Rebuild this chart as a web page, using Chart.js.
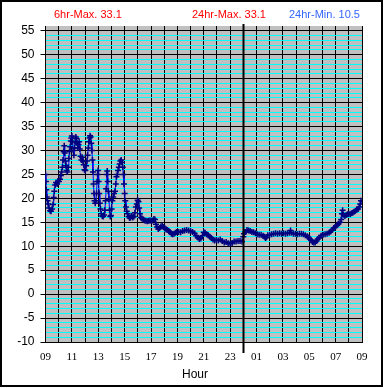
<!DOCTYPE html>
<html>
<head>
<meta charset="utf-8">
<script src="https://cdn.jsdelivr.net/npm/chart.js@4/dist/chart.umd.min.js"></script>
<style>
  body { margin: 0; background: #fff; }
  #wrap { position: relative; width: 385px; height: 388px; }
  #frame { position: absolute; left: 0; top: 0; width: 383px; height: 387px; box-sizing: border-box; border: 2px solid #000; pointer-events: none; }
  .hdr { position: absolute; top: 8px; font: 11px "Liberation Sans", Arial, sans-serif; line-height: 13px; white-space: nowrap; }
  #xtitle { position: absolute; left: 182px; top: 367px; font: 12px "Liberation Sans", Arial, sans-serif; line-height: 14px; }
</style>
</head>
<body>
<div id="wrap">
  <canvas id="tempChart" width="385" height="388"></canvas>
  <div class="hdr" style="left:54px;color:#ff0000">6hr-Max. 33.1</div>
  <div class="hdr" style="left:192px;color:#ff0000">24hr-Max. 33.1</div>
  <div class="hdr" style="left:289px;color:#3366ff">24hr-Min. 10.5</div>
  <div id="xtitle">Hour</div>
  <div id="frame"></div>
</div>
<script>
// hours since 09:00
let hours = [
  0.00, 0.03, 0.06, 0.10, 0.15, 0.20, 0.27, 0.35, 0.42, 0.50, 0.57, 0.62, 0.67, 0.73, 0.80, 0.88, 0.95,
  1.02, 1.10, 1.17, 1.22, 1.28, 1.33, 1.38, 1.42, 1.46, 1.50, 1.55, 1.60, 1.66, 1.72, 1.77, 1.82, 1.87, 1.92, 1.96,
  2.00, 2.05, 2.10, 2.15, 2.20, 2.25, 2.30, 2.35, 2.40, 2.45, 2.50, 2.55, 2.60, 2.66, 2.72, 2.78, 2.84, 2.90, 2.96,
  3.02, 3.08, 3.14, 3.19, 3.24, 3.29, 3.34, 3.38, 3.42, 3.47, 3.52, 3.56, 3.60, 3.64, 3.68, 3.72, 3.77, 3.82, 3.87, 3.91, 3.95, 3.99,
  4.03, 4.07, 4.12, 4.17, 4.23, 4.30, 4.37, 4.44, 4.50, 4.55, 4.60, 4.64, 4.68, 4.72, 4.76, 4.81, 4.86, 4.91, 4.96,
  5.01, 5.07, 5.13, 5.20, 5.27, 5.33, 5.38, 5.44, 5.50, 5.56, 5.62, 5.68, 5.74, 5.80, 5.86, 5.91, 5.95,
  6.00, 6.05, 6.10, 6.16, 6.23, 6.30, 6.38, 6.46, 6.54, 6.62, 6.70, 6.78, 6.85, 6.92, 6.99,
  7.05, 7.10, 7.16, 7.23, 7.32, 7.42, 7.52, 7.62, 7.72, 7.82, 7.92,
  8.02, 8.12, 8.22, 8.30, 8.38, 8.46, 8.55, 8.65, 8.75, 8.85, 8.95,
  9.05, 9.15, 9.25, 9.35, 9.45, 9.55, 9.65, 9.75, 9.85, 9.95,
  10.10, 10.25, 10.40, 10.55, 10.70, 10.85, 11.00, 11.15, 11.30, 11.42, 11.54, 11.66, 11.78, 11.90,
  12.00, 12.10, 12.22, 12.34, 12.46, 12.58, 12.70, 12.82, 12.95, 13.10, 13.25, 13.40, 13.55, 13.70, 13.85,
  14.00, 14.15, 14.30, 14.45, 14.60, 14.75, 14.90, 15.00, 15.05, 15.15, 15.28, 15.40, 15.52, 15.65, 15.78, 15.92,
  16.06, 16.20, 16.35, 16.50, 16.60, 16.68, 16.76, 16.85, 17.00, 17.15, 17.30, 17.45, 17.60, 17.75, 17.90,
  18.05, 18.20, 18.35, 18.50, 18.58, 18.65, 18.80, 18.95, 19.10, 19.25, 19.40, 19.55, 19.70, 19.85, 19.95,
  20.05, 20.15, 20.25, 20.35, 20.45, 20.55, 20.65, 20.75, 20.90, 21.05, 21.20, 21.35, 21.50, 21.62, 21.74, 21.86, 21.98,
  22.10, 22.22, 22.34, 22.42, 22.48, 22.53, 22.60, 22.70, 22.80, 22.90, 23.00, 23.10, 23.20, 23.30, 23.40, 23.50,
  23.60, 23.70, 23.78, 23.86, 23.92
];
let temps = [
  25.0, 23.5, 21.8, 20.3, 19.5, 18.8, 18.0, 17.4, 17.3, 17.8, 18.7, 20.2, 21.5, 22.8, 23.3, 23.0, 23.6,
  23.5, 24.0, 24.8, 25.5, 26.5, 28.0, 29.8, 31.0, 29.5, 27.8, 26.8, 25.8, 25.5, 26.5, 28.3, 29.8, 30.8, 32.0, 32.6,
  33.0, 31.8, 30.0, 29.0, 30.5, 31.8, 32.8, 32.5, 31.5, 30.5, 31.2, 31.8, 30.3, 28.8, 28.0, 28.6, 27.8, 27.0, 26.0,
  25.8, 26.8, 27.8, 29.0, 30.5, 31.8, 32.6, 33.1, 32.8, 31.5, 30.0, 28.0, 25.5, 23.0, 21.0, 19.5, 19.0, 19.5, 21.0, 23.5, 25.0, 25.8,
  23.5, 21.0, 19.0, 17.8, 16.8, 16.3, 16.2, 16.5, 17.5, 19.5, 22.0, 25.0, 25.7, 23.5, 21.5, 19.8, 17.5, 16.2, 16.4,
  17.8, 19.5, 20.3, 21.0, 21.5, 23.0, 24.5, 25.0, 25.8, 26.5, 27.2, 27.8, 28.0, 27.5, 26.5, 25.0, 23.0,
  21.0, 19.5, 18.2, 17.3, 16.8, 16.2, 15.9, 16.0, 16.3, 16.0, 16.2, 17.0, 18.2, 18.8, 19.6,
  19.3, 18.0, 16.8, 16.0, 15.8, 15.6, 15.4, 15.3, 15.2, 15.3, 15.4,
  15.3, 15.4, 15.7, 15.6, 14.6, 14.0, 13.6, 13.8, 14.1, 14.3, 14.0,
  13.7, 13.5, 13.4, 13.2, 12.9, 12.6, 12.5, 12.6, 12.8, 13.0,
  13.0, 12.9, 13.2, 13.3, 13.4, 13.3, 13.2, 13.0, 12.7, 12.2, 11.8, 11.5, 11.6, 12.2,
  12.9, 12.8, 12.5, 12.3, 12.0, 11.7, 11.4, 11.2, 11.3, 11.2, 11.4, 11.1, 10.8, 10.9, 10.6,
  10.5, 10.7, 11.0, 11.0, 11.1, 11.1, 11.0, 12.0, 12.6, 13.0, 13.4, 13.3, 13.2, 13.0, 12.9, 12.7,
  12.5, 12.4, 12.4, 12.2, 12.0, 11.7, 11.9, 12.3, 12.4, 12.5, 12.6, 12.7, 12.6, 12.7, 12.6,
  12.7, 12.6, 12.7, 12.8, 13.3, 12.8, 12.6, 12.6, 12.5, 12.6, 12.6, 12.5, 12.3, 12.1, 11.8,
  11.5, 11.2, 10.9, 10.8, 10.8, 11.1, 11.5, 11.8, 12.2, 12.4, 12.5, 12.6, 12.8, 13.1, 13.4, 13.8, 14.0,
  14.4, 14.7, 15.0, 15.6, 16.8, 17.5, 16.6, 16.3, 16.5, 16.7, 16.8, 16.7, 16.9, 17.0, 17.2, 17.4,
  17.6, 17.8, 18.2, 18.8, 19.5
];
let startHour = 9;
let yMin = -10, yMax = 56;
let midnight = 15; // hours after 09:00

let points = hours.map((h, i) => ({ x: h, y: temps[i] }));

// gray plot background
const plotBg = {
  id: 'plotBg',
  beforeDraw(chart) {
    let a = chart.chartArea;
    let c = chart.ctx;
    c.save();
    c.fillStyle = '#c0c0c0';
    c.fillRect(a.left, a.top, a.right - a.left, a.bottom - a.top);
    c.restore();
  }
};
// thick line at midnight, sticks out of the plot a bit
const dayLine = {
  id: 'dayLine',
  afterDatasetsDraw(chart) {
    let a = chart.chartArea;
    let x = Math.round(chart.scales.x.getPixelForValue(midnight)) + 0.5;
    let c = chart.ctx;
    c.save();
    c.strokeStyle = '#000';
    c.lineWidth = 2;
    c.beginPath();
    c.moveTo(x, a.top - 2);
    c.lineTo(x, a.bottom + 11);
    c.stroke();
    c.restore();
  }
};

new Chart(document.getElementById('tempChart'), {
  type: 'line',
  data: {
    datasets: [{
      data: points,
      borderColor: '#0000ff',
      borderWidth: 1,
      pointStyle: 'cross',
      pointRadius: 3,
      pointBorderWidth: 1.5,
      pointBorderColor: '#000080',
      pointBackgroundColor: '#000080',
      fill: false,
      tension: 0
    }]
  },
  options: {
    responsive: false,
    animation: false,
    layout: { padding: { top: 26, right: 23, left: 0, bottom: 0 } },
    plugins: { legend: { display: false }, tooltip: { enabled: false } },
    scales: {
      x: {
        type: 'linear',
        min: 0,
        max: 24,
        afterFit: (s) => { s.height = 46; },
        border: { color: '#000', width: 1 },
        grid: { color: '#000', lineWidth: 1, drawTicks: false },
        ticks: {
          stepSize: 1,
          autoSkip: false,
          maxRotation: 0,
          padding: 9,
          color: '#000',
          font: { family: 'Liberation Sans Narrow', size: 11 },
          callback: (v) => v % 2 === 0 ? String((startHour + v) % 24).padStart(2, '0') : ''
        }
      },
      y: {
        min: yMin,
        max: yMax,
        afterFit: (s) => { s.width = 45.5; },
        border: { color: '#000', width: 1 },
        grid: {
          lineWidth: 1,
          tickLength: 5,
          color: (ctx) => {
            let v = ctx.tick.value;
            if (v === yMax) return 'rgba(0,0,0,0)';
            return v % 5 === 0 ? '#000' : '#00ffff';
          },
          tickColor: (ctx) => ctx.tick.value % 5 === 0 && ctx.tick.value !== yMax ? '#000' : 'rgba(0,0,0,0)'
        },
        ticks: {
          stepSize: 1,
          autoSkip: false,
          padding: 6,
          color: '#000',
          font: { family: 'Liberation Sans', size: 12 },
          callback: (v) => (v % 5 === 0 && v !== yMax) ? String(v) : ''
        }
      }
    }
  },
  plugins: [plotBg, dayLine]
});
</script>
</body>
</html>
